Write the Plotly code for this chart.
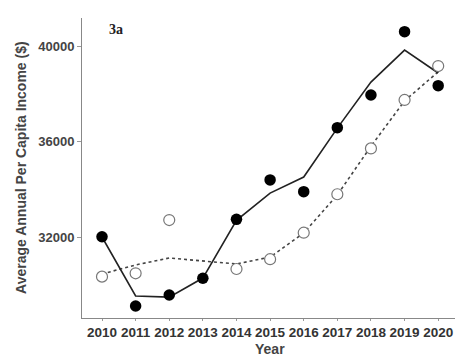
import plotly.graph_objects as go

years = [2010, 2011, 2012, 2013, 2014, 2015, 2016, 2017, 2018, 2019, 2020]
observed_a = [32010, 29110, 29570, 30270, 32740, 34390, 33900, 36580, 37950, 40600, 38340]
fitted_a = [32000, 29530, 29480, 30280, 32700, 33840, 34510, 36560, 38490, 39830, 38870]
observed_b = [30340, 30480, 32710, None, 30660, 31070, 32180, 33790, 35710, 37740, 39160]
fitted_b = [30450, 30830, 31120, 30980, 30870, 31160, 32170, 33760, 35800, 37700, 38920]
y_ticks = [32000, 36000, 40000]

fig = go.Figure()
fig.add_trace(go.Scatter(x=years, y=fitted_b, mode="lines",
                         line=dict(color="#444444", width=1.6, dash="3px,3px"), hoverinfo="skip"))
fig.add_trace(go.Scatter(x=years, y=fitted_a, mode="lines",
                         line=dict(color="#222222", width=1.6), hoverinfo="skip"))
fig.add_trace(go.Scatter(x=years, y=observed_b, mode="markers",
                         marker=dict(size=11, color="white", line=dict(color="#777777", width=1.2))))
fig.add_trace(go.Scatter(x=years, y=observed_a, mode="markers",
                         marker=dict(size=11.5, color="black", line=dict(color="black", width=0))))

fig.update_layout(
    width=455, height=356,
    margin=dict(l=82, r=0, t=18, b=38),
    paper_bgcolor="white", plot_bgcolor="white",
    showlegend=False,
    font=dict(family="Liberation Sans, Arial, sans-serif", color="#333333"),
    xaxis=dict(range=[2009.405, 2020.5], tickvals=years, ticktext=[str(y) for y in years],
               showgrid=False, zeroline=False, showline=True, linecolor="#888888", linewidth=1,
               ticks="outside", ticklen=2, tickcolor="#999999",
               tickfont=dict(size=13.5, family="Liberation Sans, Arial", color="#333333", weight="bold")),
    yaxis=dict(range=[28607, 41173], tickvals=y_ticks, ticktext=[str(v) for v in y_ticks],
               showgrid=False, zeroline=False, showline=True, linecolor="#888888", linewidth=1,
               ticks="outside", ticklen=4, tickcolor="#999999",
               tickfont=dict(size=13, family="Liberation Sans, Arial", color="#444444", weight="bold")),
    annotations=[
        dict(text="<b>Year</b>", xref="paper", yref="paper", x=0.503, y=-0.103, showarrow=False,
             xanchor="center", yanchor="middle", font=dict(size=14, color="#444444")),
        dict(text="<b>Average Annual Per Capita Income ($)</b>", textangle=-90,
             xref="paper", yref="paper", x=-0.164, y=0.503, showarrow=False,
             xanchor="center", yanchor="middle",
             font=dict(size=14, color="#444444")),
        dict(text="<b>3a</b>", xref="paper", yref="paper", x=0.091, y=0.963, showarrow=False,
             xanchor="center", yanchor="middle",
             font=dict(size=14, family="Liberation Serif, Times New Roman, serif", color="#222222")),
    ],
)

fig.write_html("out.html")
